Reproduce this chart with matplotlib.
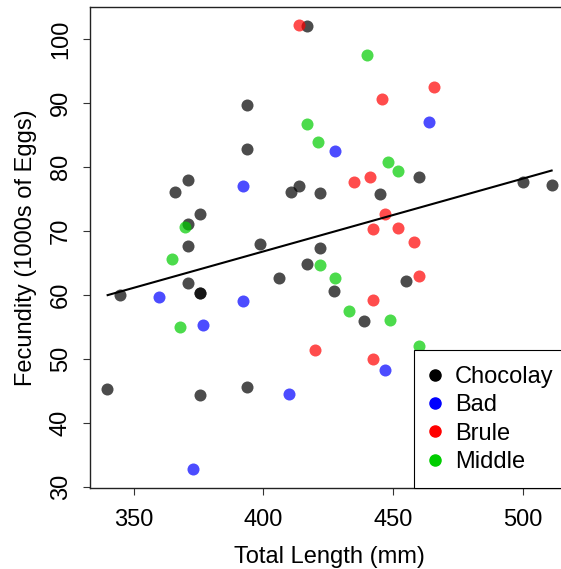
import numpy as np
import matplotlib

matplotlib.use('Agg')
import matplotlib.pyplot as plt
from matplotlib.lines import Line2D

plt.rcParams['font.family'] = ['Liberation Sans', 'DejaVu Sans']

# total length (mm) and fecundity (1000s of eggs) by river
choc_len = [416.9, 393.8, 393.8, 370.8, 365.8, 413.7, 410.7, 421.9, 375.7, 370.8,
            370.8, 398.8, 421.9, 460.1, 445.0, 499.9, 511.3, 416.8, 406.0, 370.8,
            344.7, 375.7, 375.7, 427.1, 339.8, 375.7, 393.8, 455.0, 438.9]
choc_fec = [102.0, 89.7, 82.9, 77.9, 76.1, 77.0, 76.1, 76.0, 72.6, 71.1,
            67.7, 68.0, 67.3, 78.4, 75.8, 77.6, 77.2, 64.8, 62.6, 61.8,
            60.0, 60.3, 60.3, 60.6, 45.2, 44.4, 45.6, 62.1, 55.9]

bad_len = [392.0, 463.9, 427.7, 359.6, 392.0, 376.7, 410.0, 373.0, 446.8]
bad_fec = [77.1, 87.1, 82.5, 59.6, 59.0, 55.3, 44.5, 32.8, 48.2]

brule_len = [413.7, 465.8, 445.8, 435.0, 441.1, 446.8, 442.1, 451.9, 458.1, 420.0,
             460.1, 442.1, 442.1]
brule_fec = [102.2, 92.5, 90.7, 77.6, 78.4, 72.6, 70.3, 70.5, 68.3, 51.3,
             63.0, 59.2, 50.0]

mid_len = [416.8, 420.9, 369.8, 440.0, 447.9, 452.0, 364.8, 421.9, 367.8, 427.7,
           433.0, 448.8, 460.1]
mid_fec = [86.8, 83.9, 70.6, 97.6, 80.8, 79.4, 65.6, 64.7, 54.9, 62.7,
           57.4, 56.1, 52.0]

rivers = ['Chocolay', 'Bad', 'Brule', 'Middle']
cols = ['black', 'blue', 'red', '#00CD00']

# fitted line
fit_int = 21.2
fit_slope = 0.114
fit_x = [340, 511]

fig = plt.figure(figsize=(5.61, 5.69), dpi=100)
ax = fig.add_axes([0.1604, 0.1418, 0.8539, 0.8454])

data = [(choc_len, choc_fec), (bad_len, bad_fec), (brule_len, brule_fec), (mid_len, mid_fec)]
for (x, y), c in zip(data, cols):
    ax.scatter(x, y, s=75, color=c, alpha=0.7, linewidths=0, zorder=2)

fx = np.array(fit_x)
ax.plot(fx, fit_int + fit_slope * fx, color='black', lw=1.5, zorder=3)

ax.set_xlim(333.2, 517.7)
ax.set_ylim(29.73, 105.0)
ax.set_xticks([350, 400, 450, 500])
ax.set_yticks([30, 40, 50, 60, 70, 80, 90, 100])
ax.tick_params(labelsize=17, length=5, width=0.8, colors='#333333', labelcolor='black', pad=8)
ax.tick_params(axis='x', pad=10)
for lab in ax.get_yticklabels():
    lab.set_rotation(90)
    lab.set_va('center')
for s in ax.spines.values():
    s.set_linewidth(1.0)
    s.set_color('#222222')

ax.set_xlabel('Total Length (mm)', fontsize=17, labelpad=11)
ax.set_ylabel('Fecundity (1000s of Eggs)', fontsize=17, labelpad=9)

handles = [Line2D([], [], marker='o', ls='', color=c, markersize=8) for c in cols]
leg = ax.legend(handles, rivers, loc='lower right', bbox_to_anchor=(1, 0),
                fontsize=17, borderaxespad=0, borderpad=0.65, handlelength=0.5,
                handletextpad=0.6, labelspacing=0.27, fancybox=False,
                framealpha=1, edgecolor='black')
leg.get_frame().set_linewidth(0.8)

fig.savefig('out.png', dpi=100)
